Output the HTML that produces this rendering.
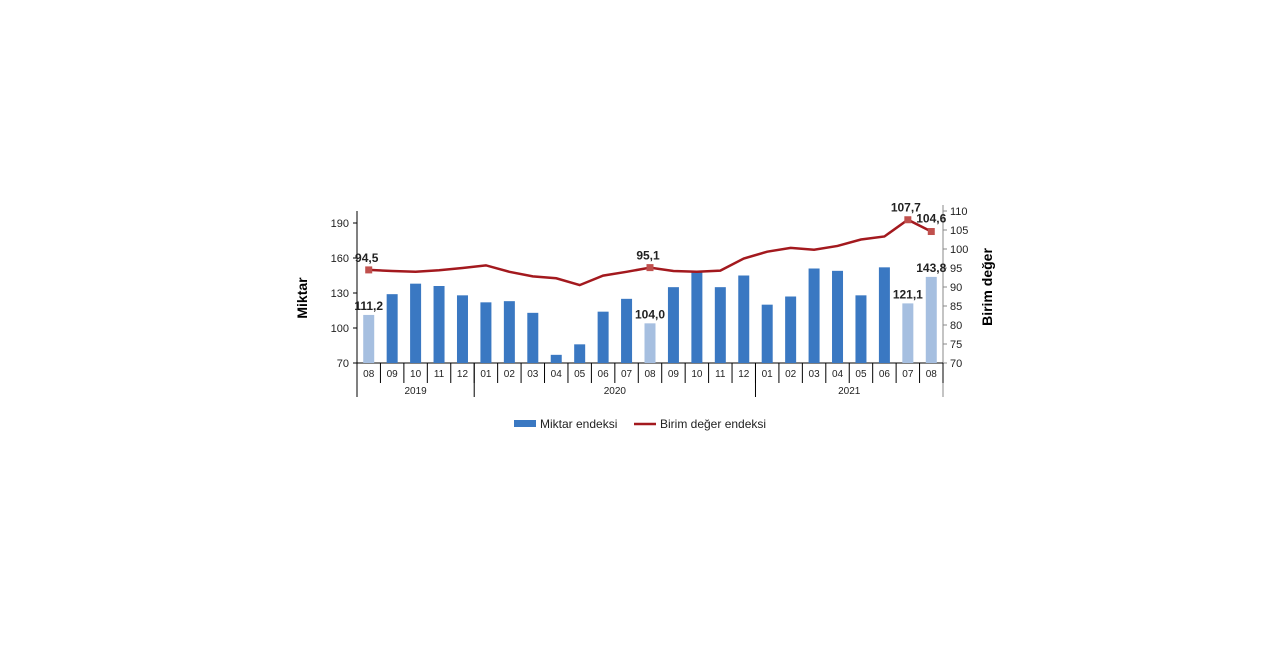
<!DOCTYPE html>
<html><head><meta charset="utf-8"><style>
body{margin:0;background:#fff;width:1280px;height:640px;overflow:hidden;font-family:"Liberation Sans",sans-serif}
</style></head><body>
<svg id="c" width="1280" height="640" font-family="Liberation Sans, sans-serif"></svg>
<script>
const months=["08","09","10","11","12","01","02","03","04","05","06","07","08","09","10","11","12","01","02","03","04","05","06","07","08"];
const years=["2019","2020","2021"];
const yearSpans=[5,12,8];
const miktar=[111.2,129,138,136,128,122,123,113,77,86,114,125,104.0,135,149,135,145,120,127,151,149,128,152,121.1,143.8];
const birim=[94.5,94.2,94.0,94.4,95.0,95.7,94.0,92.8,92.3,90.5,93.0,94.0,95.1,94.2,94.0,94.3,97.5,99.3,100.3,99.8,100.8,102.5,103.3,107.7,104.6];
const light=[0,12,23,24];
const barLabels={0:"111,2",12:"104,0",23:"121,1",24:"143,8"};
const lineLabels={0:"94,5",12:"95,1",23:"107,7",24:"104,6"};
const leftTicks=[70,100,130,160,190];
const rightTicks=[70,75,80,85,90,95,100,105,110];
const X0=357,X1=943,B=363;
const cw=(X1-X0)/months.length;
const yL=v=>B-(v-70)*140/120;
const yR=v=>B-(v-70)*152/40;
const xc=i=>X0+cw*(i+0.5);
const s=document.getElementById('c');const NS="http://www.w3.org/2000/svg";
function el(t,a,txt){const e=document.createElementNS(NS,t);for(const k in a)e.setAttribute(k,a[k]);if(txt!=null)e.textContent=txt;s.appendChild(e);return e;}
let e;
e=el('line',{x1:X0,y1:211,x2:X0,y2:397,stroke:'#000'});


e=el('line',{x1:X1,y1:205,x2:X1,y2:397,stroke:'#888'});


e=el('line',{x1:X0,y1:B,x2:X1,y2:B,stroke:'#000'});


leftTicks.forEach(t=>{el('line',{x1:X0-4,x2:X0,y1:yL(t),y2:yL(t),stroke:'#000'});
e=el('text',{x:X0-8,y:yL(t)+4,'text-anchor':'end','font-size':11,fill:'#222'},t);

});
rightTicks.forEach(t=>{el('line',{x1:X1,x2:X1+4,y1:yR(t),y2:yR(t),stroke:'#888'});
e=el('text',{x:X1+7,y:yR(t)+4,'font-size':11,fill:'#222'},t);

});
months.forEach((m,i)=>{
 el('line',{x1:X0+cw*(i+1),x2:X0+cw*(i+1),y1:B,y2:383,stroke:'#000'});
 e=el('text',{x:xc(i),y:377,'text-anchor':'middle','font-size':10,fill:'#222'},m);
 
 
 e=el('rect',{x:xc(i)-5.5,y:yL(miktar[i]),width:11,height:B-yL(miktar[i]),fill:light.includes(i)?'#a6bfe0':'#3a78c2'});
 
 
 if(barLabels[i]){e=el('text',{x:xc(i),y:yL(miktar[i])-5,'text-anchor':'middle','font-size':12,'font-weight':'bold',fill:'#222'},barLabels[i]);
 
 }
});
let acc=0;years.forEach((y,k)=>{const a=acc;acc+=yearSpans[k];
 if(k>0){e=el('line',{x1:X0+cw*a,x2:X0+cw*a,y1:B,y2:397,stroke:'#000'});}
 e=el('text',{x:X0+cw*(a+acc)/2,y:394,'text-anchor':'middle','font-size':10,fill:'#222'},y);
 
 });
e=el('polyline',{points:birim.map((v,i)=>xc(i)+','+yR(v)).join(' '),fill:'none',stroke:'#a3191e','stroke-width':2.5});


Object.keys(lineLabels).forEach(k=>{const i=+k;
 e=el('rect',{x:xc(i)-3.5,y:yR(birim[i])-3.5,width:7,height:7,fill:'#c0504d'});
 
 
 e=el('text',{x:xc(i)+(i==24?0:-2),y:yR(birim[i])-(i==24?9:8),'text-anchor':'middle','font-size':12,'font-weight':'bold',fill:'#222'},lineLabels[k]);
 
 });
e=el('text',{x:307,y:298,'font-size':14,'font-weight':'bold','text-anchor':'middle',transform:'rotate(-90 307 298)'},'Miktar');


e=el('text',{x:992,y:287,'font-size':14,'font-weight':'bold','text-anchor':'middle',transform:'rotate(-90 992 287)'},'Birim değer');


e=el('rect',{x:514,y:420,width:22,height:7,fill:'#3a78c2'});


e=el('text',{x:540,y:428,'font-size':12,fill:'#222'},'Miktar endeksi');


e=el('line',{x1:634,x2:656,y1:424,y2:424,stroke:'#a3191e','stroke-width':2.5});


e=el('text',{x:660,y:428,'font-size':12,fill:'#222'},'Birim değer endeksi');


</script>
</body></html>
